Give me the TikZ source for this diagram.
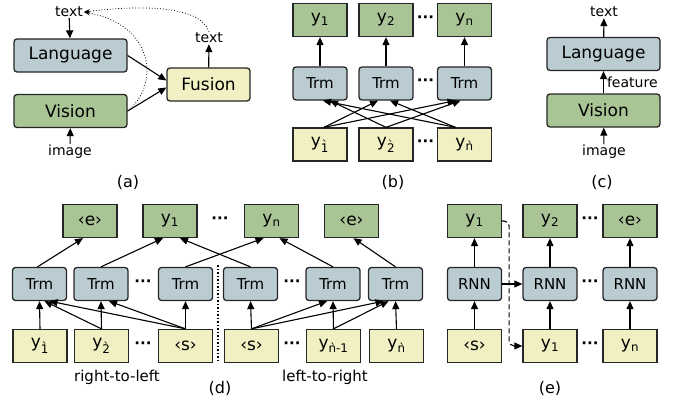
\documentclass[tikz,border=0pt]{standalone}
\usepackage{fontspec}
\setmainfont{DejaVu Sans}
\usetikzlibrary{arrows.meta,positioning,calc}
\definecolor{boxgreen}{RGB}{169,197,150}
\definecolor{boxblue}{RGB}{186,204,209}
\definecolor{boxyellow}{RGB}{240,240,194}
\newcommand{\ysub}[1]{y\textsubscript{#1}}
\newcommand{\ygr}[1]{y\textsubscript{\`{#1}}}

\begin{document}
\begin{tikzpicture}[x=1pt, y=-1pt,
    boxline/.style={draw=black!85, line width=1.3pt},
    bigbox/.style={boxline, rounded corners=3pt, minimum width=113pt, minimum height=33pt, font=\fontsize{17}{19}\selectfont},
    outbox/.style={boxline, fill=boxgreen, minimum width=54pt, minimum height=33pt, font=\fontsize{17}{19}\selectfont},
    inbox/.style={boxline, fill=boxyellow, minimum width=54pt, minimum height=33pt, font=\fontsize{17}{19}\selectfont},
    trmbox/.style={boxline, fill=boxblue, rounded corners=3pt, minimum width=54pt, minimum height=33pt, font=\fontsize{15}{17}\selectfont},
    lbl/.style={font=\fontsize{14}{16}\selectfont, inner sep=1pt},
    plbl/.style={font=\fontsize{16}{18}\selectfont},
    dotsnode/.style={font=\fontsize{15}{17}\selectfont\bfseries, inner sep=0pt},
    arr/.style={line width=1.1pt, -{Triangle[length=8pt,width=7pt]}}]
    \useasboundingbox (0,0) rectangle (685,404);

    % (a) fusion
    \node[bigbox, fill=boxblue] (langA) at (70.5,55.5) {Language};
    \node[bigbox, fill=boxgreen] (visA) at (70.5,111) {Vision};
    \node[bigbox, fill=boxyellow, minimum width=83pt] (fus) at (208.5,84.5) {Fusion};
    \node[lbl] (txtA) at (69,12) {text};
    \node[lbl] (imgA) at (70,152) {image};
    \node[lbl] (txtF) at (209,38) {text};
    \draw[arr] (txtA) -- (langA);
    \draw[arr] (imgA) -- (visA);
    \draw[arr] (fus) -- (txtF);
    \draw[arr] (langA.east) -- ([yshift=4pt]fus.west);
    \draw[arr] (visA.east) -- ([yshift=-3pt]fus.west);
    \draw[dotted, line width=0.8pt, -{Stealth[length=6pt]}] (txtF.north) .. controls (200,5) and (140,5) .. (txtA.east);
    \draw[dotted, line width=0.8pt, -{Stealth[length=6pt]}] (visA.east) .. controls (160,85) and (155,25) .. (txtA.east);
    \node[plbl] (capA) at (128,182) {(a)};

    % (b) parallel decoding
    \node[outbox] (b1) at (320,20) {\ysub{1}};
    \node[outbox] (b2) at (386,20) {\ysub{2}};
    \node[outbox] (bn) at (464.5,20) {\ysub{n}};
    \node[trmbox] (bt1) at (320,83.5) {Trm};
    \node[trmbox] (bt2) at (386,83.5) {Trm};
    \node[trmbox] (bt3) at (464.5,83.5) {Trm};
    \node[inbox] (bi1) at (320,144.5) {\ygr{1}};
    \node[inbox] (bi2) at (386,144.5) {\ygr{2}};
    \node[inbox] (bin) at (464.5,144.5) {\ygr{n}};
    \node[dotsnode] (bd1) at (425.5,19) {···};
    \node[dotsnode] (bd2) at (425.5,82.5) {···};
    \node[dotsnode] (bd3) at (425.5,143.5) {···};
    \draw[arr] (bt1) -- (b1);
    \draw[arr] (bt2) -- (b2);
    \draw[arr] (bt3) -- (bn);
    \draw[arr] ([xshift=4pt]bi1.north) -- ([xshift=-8pt]bt2.south);
    \draw[arr] ([xshift=4pt]bi1.north) -- ([xshift=-9pt]bt3.south);
    \draw[arr] (bi2.north) -- ([xshift=10pt]bt1.south);
    \draw[arr] (bi2.north) -- ([xshift=-4pt]bt3.south);
    \draw[arr] ([xshift=-9pt]bin.north) -- ([xshift=3pt]bt1.south);
    \draw[arr] ([xshift=-9pt]bin.north) -- ([xshift=4pt]bt2.south);
    \node[plbl] (capB) at (393,182) {(b)};

    % (c) vision to language
    \node[bigbox, fill=boxblue] (langC) at (603.5,54) {Language};
    \node[bigbox, fill=boxgreen] (visC) at (603.5,110.5) {Vision};
    \node[lbl] (txtC) at (604,12) {text};
    \node[lbl] (imgC) at (604,152) {image};
    \draw[arr] (langC) -- (txtC);
    \draw[arr] (imgC) -- (visC);
    \draw[arr] (visC) -- node[lbl, right, xshift=2pt] {feature} (langC);
    \node[plbl] (capC) at (602,182) {(c)};

    % (d) bidirectional
    \node[outbox] (de1) at (90,221) {‹e›};
    \node[outbox] (dy1) at (170,221) {\ysub{1}};
    \node[outbox] (dyn) at (271.5,221) {\ysub{n}};
    \node[outbox] (de2) at (351.5,221) {‹e›};
    \node[dotsnode] (dd1) at (220,220) {···};
    \node[trmbox] (dt1) at (39.5,284) {Trm};
    \node[trmbox] (dt2) at (101,284) {Trm};
    \node[trmbox] (dt3) at (185.5,284) {Trm};
    \node[trmbox] (dt4) at (250.5,284) {Trm};
    \node[trmbox] (dt5) at (333,284) {Trm};
    \node[trmbox] (dt6) at (395.5,284) {Trm};
    \node[dotsnode] (dd2) at (143,283) {···};
    \node[dotsnode] (dd3) at (292,283) {···};
    \node[inbox] (di1) at (40,346) {\ygr{1}};
    \node[inbox] (di2) at (101.5,346) {\ygr{2}};
    \node[inbox] (ds1) at (185.5,346) {‹s›};
    \node[inbox] (ds2) at (251.5,346) {‹s›};
    \node[inbox] (di3) at (333.5,346) {y\textsubscript{\`{n}-1}};
    \node[inbox] (di4) at (396.5,346) {\ygr{n}};
    \node[dotsnode] (dd4) at (143,345) {···};
    \node[dotsnode] (dd5) at (292,345) {···};
    \draw[arr] ([xshift=-2pt]dt1.north) -- ([xshift=-7pt]de1.south);
    \draw[arr] (dt2.north) -- ([xshift=-7pt]dy1.south);
    \draw[arr] (dt3.north) -- ([xshift=-8pt]dyn.south);
    \draw[arr] (dt4.north) -- ([xshift=10pt]dy1.south);
    \draw[arr] (dt5.north) -- ([xshift=8pt]dyn.south);
    \draw[arr] (dt6.north) -- ([xshift=2pt]de2.south);
    \draw[arr] (di1.north) -- (dt1.south);
    \draw[arr] (di2.north) -- ([xshift=5pt]dt1.south);
    \draw[arr] (ds1.north) -- ([xshift=10pt]dt1.south);
    \draw[arr] (di2.north) -- (dt2.south);
    \draw[arr] (ds1.north) -- ([xshift=8pt]dt2.south);
    \draw[arr] (ds1.north) -- (dt3.south);
    \draw[arr] (ds2.north) -- (dt4.south);
    \draw[arr] (ds2.north) -- ([xshift=-6pt]dt5.south);
    \draw[arr] (ds2.north) -- ([xshift=-12pt]dt6.south);
    \draw[arr] (di3.north) -- (dt5.south);
    \draw[arr] (di3.north) -- ([xshift=-7pt]dt6.south);
    \draw[arr] (di4.north) -- (dt6.south);
    \coordinate (divtop) at (218,265);
    \coordinate (divbot) at (218,363);
    \draw[dotted, line width=1.5pt] (divtop) -- (divbot);
    \node[lbl, font=\fontsize{15}{17}\selectfont] (rtl) at (117,377) {right-to-left};
    \node[lbl, font=\fontsize{15}{17}\selectfont] (ltr) at (325,377) {left-to-right};
    \node[plbl] (capD) at (220,388) {(d)};

    % (e) RNN
    \node[outbox] (ey1) at (474.5,221) {\ysub{1}};
    \node[outbox] (ey2) at (550,221) {\ysub{2}};
    \node[outbox] (ee) at (630,221) {‹e›};
    \node[trmbox] (er1) at (474.5,284) {RNN};
    \node[trmbox] (er2) at (550,284) {RNN};
    \node[trmbox] (er3) at (630,284) {RNN};
    \node[inbox] (es) at (474.5,346) {‹s›};
    \node[inbox] (ei1) at (550,346) {\ysub{1}};
    \node[inbox] (ein) at (630,346) {\ysub{n}};
    \node[dotsnode] (ed1) at (590,220) {···};
    \node[dotsnode] (ed2) at (590,283) {···};
    \node[dotsnode] (ed3) at (590,345) {···};
    \draw[arr] (er1) -- (ey1);
    \draw[arr] (er2) -- (ey2);
    \draw[arr] (er3) -- (ee);
    \draw[arr] (es) -- (er1);
    \draw[arr] (ei1) -- (er2);
    \draw[arr] (ein) -- (er3);
    \draw[arr] (er1) -- (er2);
    \draw[arr, dash pattern=on 5pt off 3pt, rounded corners=5pt] (ey1.east) -- ++(7,0) |- (ei1.west);
    \node[plbl] (capE) at (550,388) {(e)};
\end{tikzpicture}
\end{document}
